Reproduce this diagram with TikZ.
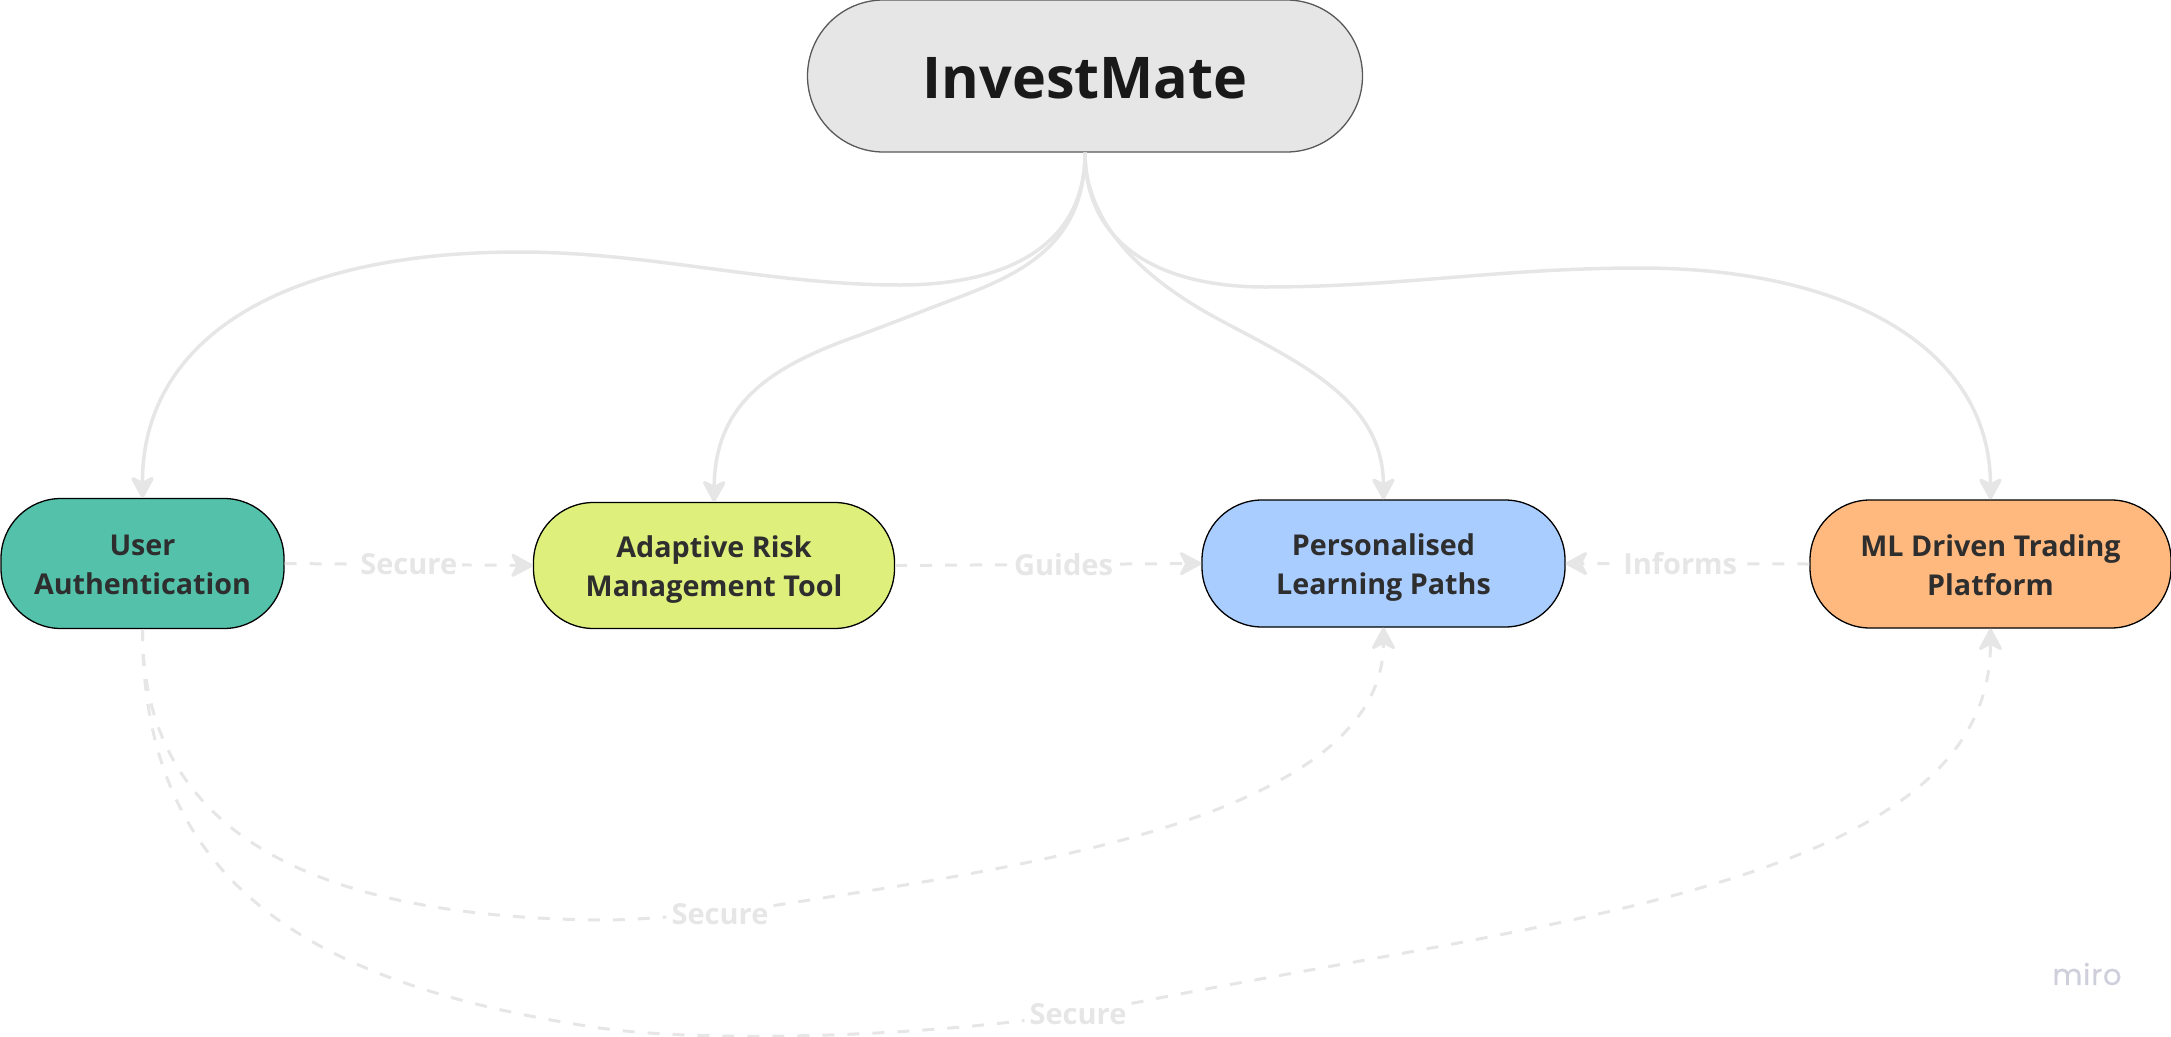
\documentclass[tikz,border=0pt]{standalone}
\usepackage{fontspec}
\setmainfont{Open Sans}
\newfontfamily\mirofont[FakeBold=0.6,LetterSpace=3]{Poppins}
\usetikzlibrary{arrows.meta}
\definecolor{linkgray}{HTML}{E6E6E6}
\definecolor{rootgray}{HTML}{E6E6E6}
\definecolor{authgreen}{HTML}{54C2AB}
\definecolor{risklime}{HTML}{DEF07B}
\definecolor{learnblue}{HTML}{A9CDFF}
\definecolor{tradeorange}{HTML}{FFB97F}
\definecolor{mirogray}{HTML}{CFCFDC}
\tikzset{
	topic/.style={draw=black,line width=1.3pt,rounded corners=60pt,align=center,inner sep=0pt,
		text=black!82,font=\fontsize{28.7}{39}\selectfont\bfseries,
		execute at begin node={\rule{0pt}{70pt}},execute at end node={\rule[-8pt]{0pt}{8pt}}},
	link/.style={draw=linkgray,line width=3.5pt,-{Stealth[round,length=25pt,width=27pt,inset=7pt]}},
	dashlink/.style={link,line width=3pt,dash pattern=on 12pt off 13pt},
	linklabel/.style={text=linkgray,inner ysep=2pt,inner xsep=5pt,font=\fontsize{29}{34}\selectfont\bfseries},
}
\begin{document}
\begin{tikzpicture}[x=1pt,y=-1pt]
\useasboundingbox (0,0) rectangle (2171,1036);
\node[draw=black!65,line width=1.3pt,fill=rootgray,rounded corners=76pt,minimum width=555pt,minimum height=152pt,inner sep=0pt,
	font=\fontsize{57.5}{70}\selectfont\bfseries,text=black!90,execute at begin node={\rule{0pt}{46pt}}] (root) at (1085,76) {InvestMate};
\node[topic,fill=authgreen,minimum width=283pt,minimum height=130pt] (auth) at (142.5,563.5) {User\\Authentication};
\node[topic,fill=risklime,minimum width=361pt,minimum height=126pt] (risk) at (714,565.5) {Adaptive Risk\\Management Tool};
\node[topic,fill=learnblue,minimum width=363pt,minimum height=127pt] (learn) at (1383.5,563.5) {Personalised\\Learning Paths};
\node[topic,fill=tradeorange,minimum width=361pt,minimum height=128pt] (trade) at (1990.5,564) {ML Driven Trading\\Platform};
\node[text=mirogray,font=\mirofont\fontsize{29}{36}\selectfont] (miro) at (2087,974) {miro};
% labels sit on the curves
\node[linklabel] (secureA) at (720,914) {Secure};
\node[linklabel] (secureB) at (1078,1014) {Secure};
% root to topics
\draw[link] (root.south) .. controls (1085,250) and (1000,285) .. (900,285)
	.. controls (770,285) and (650,252) .. (519,252)
	.. controls (280,252) and (142,340) .. (auth.north);
\draw[link] (root.south) .. controls (1085,245) and (1020,274) .. (957,298)
	.. controls (925,310) and (895,322) .. (860,335)
	.. controls (775,365) and (715,400) .. (risk.north);
\draw[link] (root.south) .. controls (1085,225) and (1145,280) .. (1220,320)
	.. controls (1300,363) and (1383,400) .. (learn.north);
\draw[link] (root.south) .. controls (1085,245) and (1160,287) .. (1265,287)
	.. controls (1400,287) and (1500,268) .. (1640,268)
	.. controls (1850,268) and (1990,350) .. (trade.north);
% across
\draw[dashlink] (auth.east) -- node[linklabel,fill=white] (secureC) {Secure} (risk.west);
\draw[dashlink] (risk.east) -- node[linklabel,fill=white,pos=.55] (guides) {Guides} (learn.west);
\draw[dashlink] (trade.west) -- node[linklabel,fill=white,pos=.53] (informs) {Informs} (learn.east);
% bottom curves
\draw[dashlink] (auth.south) .. controls (142,825) and (300,917) .. (600,920)
	.. controls (630,920) and (650,918) .. (secureA)
	.. controls (1000,870) and (1383,822) .. (learn.south);
\draw[dashlink] (auth.south) .. controls (142,890) and (320,985) .. (593,1027)
	.. controls (690,1042) and (880,1038) .. (secureB)
	.. controls (1550,920) and (1990,885) .. (trade.south);
\end{tikzpicture}
\end{document}
